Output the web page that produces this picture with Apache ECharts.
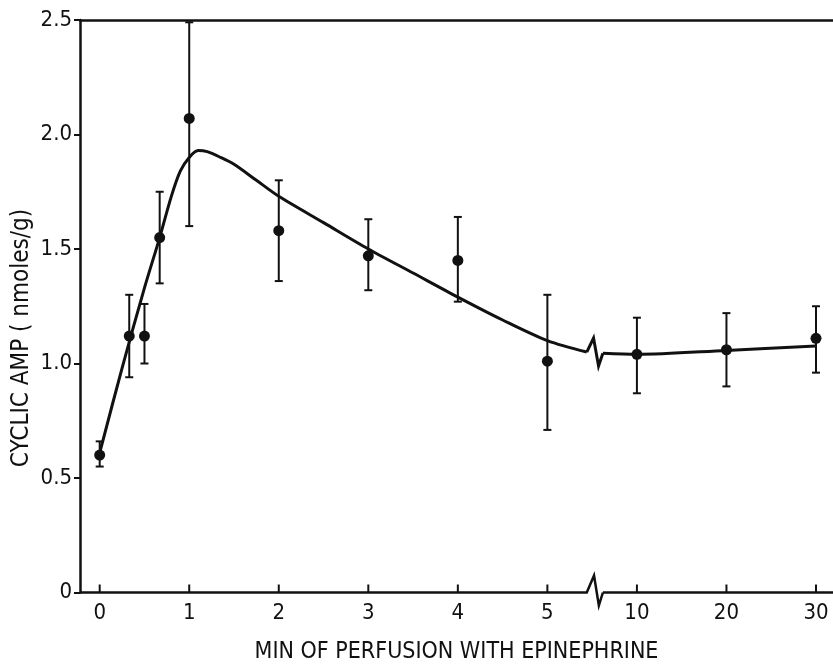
<!DOCTYPE html>
<html>
<head>
<meta charset="utf-8">
<script src="https://cdn.jsdelivr.net/npm/echarts@6/dist/echarts.min.js"></script>
<style>
html,body{margin:0;padding:0;background:#fff;}
#chart{width:833px;height:666px;}
</style>
</head>
<body>
<div id="chart"></div>
<script>
// ---- data ----
const tickMinutes = [0, 1, 2, 3, 4, 5, 10, 20, 30];
const tickLabels = ['0', '1', '2', '3', '4', '5', '10', '20', '30'];
const yTickLabels = ['0', '0.5', '1.0', '1.5', '2.0', '2.5'];

const minutes = [0, 0.33, 0.5, 0.67, 1, 2, 3, 4, 5, 10, 20, 30];
const meanAMP = [0.60, 1.12, 1.12, 1.55, 2.07, 1.58, 1.47, 1.45, 1.01, 1.04, 1.06, 1.11];
const errLow  = [0.55, 0.94, 1.00, 1.35, 1.60, 1.36, 1.32, 1.27, 0.71, 0.87, 0.90, 0.96];
const errHigh = [0.66, 1.30, 1.26, 1.75, 2.49, 1.80, 1.63, 1.64, 1.30, 1.20, 1.22, 1.25];

// fitted curve, before and after the axis break
const fitMinutesEarly = [0, 0.25, 0.5, 0.67, 0.8, 0.9, 1.0, 1.1, 1.2, 1.35, 1.5, 1.75, 2, 2.5, 3, 3.5, 4, 4.5, 5, 5.44];
const fitAMPEarly     = [0.61, 0.98, 1.33, 1.55, 1.73, 1.84, 1.90, 1.93, 1.925, 1.90, 1.87, 1.80, 1.73, 1.615, 1.50, 1.395, 1.29, 1.19, 1.10, 1.05];
const fitMinutesLate  = [10, 20, 30];
const fitAMPLate      = [1.04, 1.057, 1.076];
const fitAMPAfterBreak = 1.045;

// axis break (in axis-position units)
const breakStart = 5.44;
const breakEnd = 5.62;
const xMin = -0.22, xMax = 8.19;

// axis position: linear 0..5 min, then 10 min per unit after the break
function toPos(t) { return t <= 5.5 ? t : 6 + (t - 10) / 10; }

const FONT = "'Liberation Sans Narrow','DejaVu Sans Condensed','Liberation Sans',sans-serif";
const INK = '#111';

const tickPos = tickMinutes.map(toPos);
const labelByPos = {};
tickPos.forEach((p, i) => { labelByPos[p.toFixed(3)] = tickLabels[i]; });

const earlyCurve = fitMinutesEarly.map((t, i) => [toPos(t), fitAMPEarly[i]]);
const lateCurve = [[breakEnd, fitAMPAfterBreak]].concat(fitMinutesLate.map((t, i) => [toPos(t), fitAMPLate[i]]));
const points = minutes.map((t, i) => [toPos(t), meanAMP[i]]);
const bars = minutes.map((t, i) => [toPos(t), errLow[i], errHigh[i]]);

const chart = echarts.init(document.getElementById('chart'), null, {renderer: 'canvas'});
chart.setOption({
  backgroundColor: '#fff',
  animation: false,
  grid: {left: 80, right: 0, top: 20, bottom: 73.5, containLabel: false, outerBoundsMode: 'none'},
  graphic: [{
    type: 'text', x: 22, y: 338, rotation: Math.PI / 2, silent: true,
    style: {text: 'CYCLIC AMP ( nmoles/g)', fill: INK, fontSize: 24, fontFamily: FONT,
            align: 'center', verticalAlign: 'middle'}
  }],
  xAxis: [{
    type: 'value', min: xMin, max: xMax, position: 'bottom',
    axisLine: {show: false, onZero: false},
    splitLine: {show: false},
    axisTick: {show: false},
    axisLabel: {show: true, customValues: tickPos, margin: 10,
                color: INK, fontSize: 22, fontFamily: FONT,
                formatter: v => labelByPos[Number(v).toFixed(3)] || ''},
    name: 'MIN OF PERFUSION WITH EPINEPHRINE',
    nameLocation: 'middle', nameGap: 48,
    nameTextStyle: {color: INK, fontSize: 23, fontFamily: FONT}
  }, {
    type: 'value', min: xMin, max: xMax, position: 'top',
    axisLine: {show: true, onZero: false, lineStyle: {color: INK, width: 2.5}},
    axisTick: {show: false}, axisLabel: {show: false}, splitLine: {show: false}
  }],
  yAxis: {
    type: 'value', min: 0, max: 2.5, interval: 0.5,
    axisLine: {show: true, onZero: false, lineStyle: {color: INK, width: 2.5}},
    axisTick: {show: true, inside: false, length: 6, lineStyle: {color: INK, width: 2}},
    splitLine: {show: false},
    axisLabel: {margin: 8, color: INK, fontSize: 22, fontFamily: FONT,
                formatter: (v) => yTickLabels[Math.round(v / 0.5)]}
  },
  series: [
    {
      type: 'line', data: earlyCurve, smooth: 0.3, symbol: 'none', silent: true,
      lineStyle: {color: INK, width: 3}, z: 3
    },
    {
      type: 'line', data: lateCurve, smooth: 0.3, symbol: 'none', silent: true,
      lineStyle: {color: INK, width: 3}, z: 3
    },
    {
      // zigzag break in the fitted curve
      type: 'custom', silent: true, clip: false, z: 3,
      data: [[breakStart, fitAMPEarly[fitAMPEarly.length - 1], breakEnd, fitAMPAfterBreak]],
      encode: {x: [0, 2], y: [1, 3]},
      renderItem: function (params, api) {
        const a = api.coord([api.value(0), api.value(1)]);
        const b = api.coord([api.value(2), api.value(3)]);
        const w = b[0] - a[0];
        return {type: 'polyline', shape: {points: [
          a, [a[0] + w * 0.42, a[1] - 14], [a[0] + w * 0.73, a[1] + 14], b
        ]}, style: {stroke: INK, lineWidth: 3, fill: null, lineJoin: 'miter'}};
      }
    },
    {
      // x-axis baseline with break
      type: 'custom', silent: true, clip: false, z: 4,
      data: [[xMin, breakStart, breakEnd, xMax]],
      encode: {x: [0, 1, 2, 3]},
      renderItem: function (params, api) {
        const p0 = api.coord([api.value(0), 0]);
        const p1 = api.coord([api.value(1), 0]);
        const p2 = api.coord([api.value(2), 0]);
        const p3 = api.coord([api.value(3), 0]);
        const w = p2[0] - p1[0];
        return {type: 'group', children: [
          {type: 'polyline', shape: {points: [p0, p1,
            [p1[0] + w * 0.45, p1[1] - 17], [p1[0] + w * 0.75, p1[1] + 13], p2]},
           style: {stroke: INK, lineWidth: 2.5, fill: null}},
          {type: 'line', shape: {x1: p2[0], y1: p2[1], x2: p3[0], y2: p3[1]},
           style: {stroke: INK, lineWidth: 2.5}}
        ]};
      }
    },
    {
      // x-axis ticks, pointing into the plot
      type: 'custom', silent: true, clip: false, z: 4,
      data: tickPos.map(p => [p, 0]),
      encode: {x: 0, y: 1},
      renderItem: function (params, api) {
        const c = api.coord([api.value(0), api.value(1)]);
        return {type: 'line', shape: {x1: c[0], y1: c[1], x2: c[0], y2: c[1] - 8},
                style: {stroke: INK, lineWidth: 2}};
      }
    },
    {
      // error bars
      type: 'custom', silent: true, clip: false, z: 5,
      data: bars,
      encode: {x: 0, y: [1, 2]},
      renderItem: function (params, api) {
        const x = api.value(0);
        const lo = api.coord([x, api.value(1)]);
        const hi = api.coord([x, api.value(2)]);
        const c = 4;
        const st = {stroke: INK, lineWidth: 2};
        return {type: 'group', children: [
          {type: 'line', shape: {x1: lo[0], y1: lo[1], x2: hi[0], y2: hi[1]}, style: st},
          {type: 'line', shape: {x1: lo[0] - c, y1: lo[1], x2: lo[0] + c, y2: lo[1]}, style: st},
          {type: 'line', shape: {x1: hi[0] - c, y1: hi[1], x2: hi[0] + c, y2: hi[1]}, style: st}
        ]};
      }
    },
    {
      type: 'scatter', data: points, symbol: 'circle', symbolSize: 11, silent: true,
      itemStyle: {color: INK, opacity: 1}, z: 6
    }
  ]
});
</script>
</body>
</html>
